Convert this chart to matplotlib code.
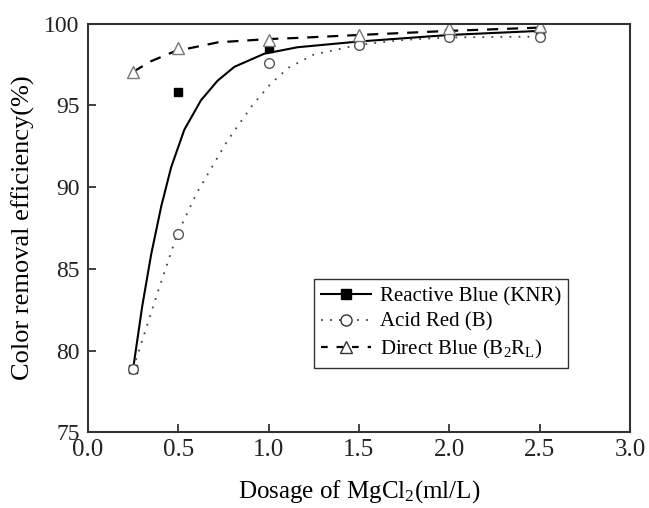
import matplotlib.pyplot as plt

plt.rcParams['font.family'] = ['Liberation Serif', 'DejaVu Serif']
plt.rcParams['mathtext.fontset'] = 'custom'
plt.rcParams['mathtext.rm'] = 'Liberation Serif'
plt.rcParams['mathtext.it'] = 'Liberation Serif:italic'

# measured points
dosage = [0.25, 0.5, 1.0, 1.5, 2.0, 2.5]
reactive_blue = [78.9, 95.8, 98.5, 98.8, 99.4, 99.55]
acid_red = [78.9, 87.1, 97.6, 98.7, 99.15, 99.15]
direct_blue = [97.05, 98.5, 99.0, 99.3, 99.7, 99.85]

# fitted curves
rb_fit_x = [0.25, 0.30, 0.35, 0.405, 0.46, 0.533, 0.625, 0.717, 0.81, 0.975, 1.16, 1.5, 2.0, 2.5]
rb_fit_y = [78.9, 82.7, 85.9, 88.8, 91.2, 93.5, 95.3, 96.5, 97.35, 98.15, 98.55, 98.9, 99.3, 99.55]
ar_fit_x = [0.25, 0.39, 0.49, 0.6, 0.68, 0.77, 0.84, 0.91, 1.01, 1.11, 1.25, 1.5, 1.75, 2.0, 2.5]
ar_fit_y = [78.9, 83.7, 87.0, 89.6, 91.1, 92.8, 93.9, 95.0, 96.3, 97.3, 98.1, 98.7, 99.0, 99.15, 99.2]
db_fit_x = [0.25, 0.35, 0.48, 0.72, 1.0, 1.16, 1.5, 2.0, 2.5]
db_fit_y = [97.05, 97.7, 98.3, 98.85, 99.05, 99.12, 99.3, 99.55, 99.75]

fig = plt.figure(figsize=(6.49, 5.08), dpi=100)
ax = fig.add_axes([0.1356, 0.149, 0.835, 0.8047])

ax.plot(rb_fit_x, rb_fit_y, color='black', lw=1.5)
ax.plot(ar_fit_x, ar_fit_y, color='#444444', lw=1.3, linestyle=(0, (1, 4)))
ax.plot(db_fit_x, db_fit_y, color='black', lw=1.6, linestyle=(0, (5, 4)))

ax.plot(dosage, reactive_blue, 's', color='black', ms=6, ls='none')
ax.plot(dosage, acid_red, 'o', mfc='white', mec='#555555', ms=7, ls='none')
ax.plot(dosage, direct_blue, '^', mfc='white', mec='#777777', ms=8, ls='none')

# legend handles
h1, = ax.plot([], [], '-s', color='black', ms=7, lw=1.5)
h2, = ax.plot([], [], 'o', mfc='white', mec='#333333', ms=8, color='#444444',
              lw=1.3, linestyle=(0, (1, 4)))
h3, = ax.plot([], [], '^', mfc='white', mec='#333333', ms=9, color='black',
              lw=1.6, linestyle=(0, (3, 4)))
leg = ax.legend([h1, h2, h3],
                ['Reactive Blue (KNR)', 'Acid Red (B)', r'Direct Blue (B$_2$R$_\mathrm{L}$)'],
                loc='upper left', bbox_to_anchor=(0.417, 0.3745), fontsize=15,
                frameon=True, fancybox=False, handlelength=2.4, handletextpad=0.4,
                borderpad=0.35, labelspacing=0.3, borderaxespad=0)
leg.get_frame().set_edgecolor('black')
leg.get_frame().set_linewidth(1.0)

ax.set_xlim(0, 3.0)
ax.set_ylim(75, 100)
ax.set_xticks([0.0, 0.5, 1.0, 1.5, 2.0, 2.5, 3.0])
ax.set_yticks([75, 80, 85, 90, 95, 100])
ax.tick_params(direction='in', length=6, width=1.2, colors='#222222')
ax.tick_params(axis='x', labelsize=18, pad=5)
ax.tick_params(axis='y', labelsize=17, pad=6)
for s in ax.spines.values():
    s.set_linewidth(1.5)
    s.set_color('#333333')

ax.set_xlabel(r'Dosage of MgCl$_2$(ml/L)', fontsize=18, labelpad=12)
ax.set_ylabel('Color removal efficiency(%)', fontsize=19, labelpad=7)

fig.savefig('out.png', dpi=100)
